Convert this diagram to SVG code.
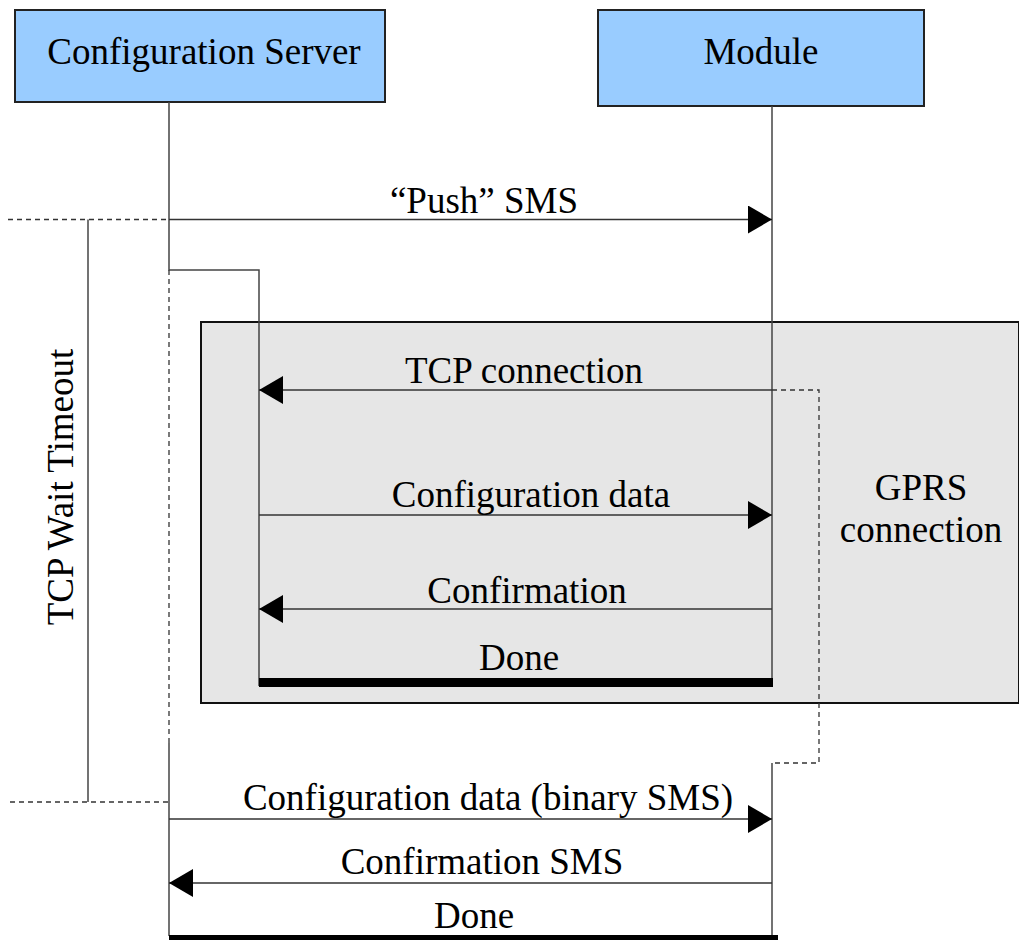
<svg xmlns="http://www.w3.org/2000/svg" width="1019" height="940" viewBox="0 0 1019 940">
<defs>
<style>
text{font-family:"Liberation Serif","Times New Roman",serif;font-size:37px;fill:#000;text-anchor:middle}
.hdr{fill:#99ccff;stroke:#222;stroke-width:2}
.life{stroke:#444;stroke-width:1.5;fill:none}
.msg{stroke:#333;stroke-width:1.5;fill:none}
.dash{stroke:#333;stroke-width:1.3;fill:none;stroke-dasharray:5,4}
.bar{fill:#000}
</style>
<marker id="ah" markerUnits="userSpaceOnUse" markerWidth="24" markerHeight="28" refX="24" refY="14" orient="auto">
<path d="M0,0 L24,14 L0,28 z" fill="#000"/>
</marker>
</defs>
<rect width="1019" height="940" fill="#fff"/>
<g id="gprs-frame">
<rect x="201" y="322" width="818" height="381" fill="#e6e6e6" stroke="#111" stroke-width="2"/>
<text x="921" y="500">GPRS</text>
<text x="921" y="542">connection</text>
</g>
<g id="config-server">
<rect class="hdr" x="15" y="10" width="370" height="92"/>
<text x="204" y="64">Configuration Server</text>
</g>
<g id="module">
<rect class="hdr" x="598" y="10" width="326" height="96"/>
<text x="761" y="64">Module</text>
</g>
<g id="tcp-wait-timeout">
<path class="dash" d="M8,219.5 H169"/>
<path class="life" d="M88,219.5 V802"/>
<path class="dash" d="M10,802 H169"/>
<text transform="translate(73,487) rotate(-90)">TCP Wait Timeout</text>
</g>
<g id="lifelines">
<path class="life" d="M169,102 V270 H259 V686"/>
<path class="dash" d="M169,270 V743"/>
<path class="life" d="M169,743 V936"/>
<path class="life" d="M772,106 V686"/>
<path class="life" d="M772,763 V936"/>
<path class="dash" d="M772,390 H819 V763 H772"/>
</g>
<g id="connectors">
<path class="msg" d="M169,219.5 H772" marker-end="url(#ah)"/>
<text x="484" y="213">“Push” SMS</text>
<path class="msg" d="M772,390 H259" marker-end="url(#ah)"/>
<text x="524" y="383">TCP connection</text>
<path class="msg" d="M259,515 H772" marker-end="url(#ah)"/>
<text x="531" y="507">Configuration data</text>
<path class="msg" d="M772,609 H259" marker-end="url(#ah)"/>
<text x="527" y="603">Confirmation</text>
<rect class="bar" x="259" y="678" width="514" height="9"/>
<text x="519" y="670">Done</text>
<path class="msg" d="M169,819 H772" marker-end="url(#ah)"/>
<text x="488" y="810">Configuration data (binary SMS)</text>
<path class="msg" d="M772,883 H169" marker-end="url(#ah)"/>
<text x="482" y="874">Confirmation SMS</text>
<rect class="bar" x="169" y="935" width="609" height="6"/>
<text x="474" y="928">Done</text>
</g>
</svg>
